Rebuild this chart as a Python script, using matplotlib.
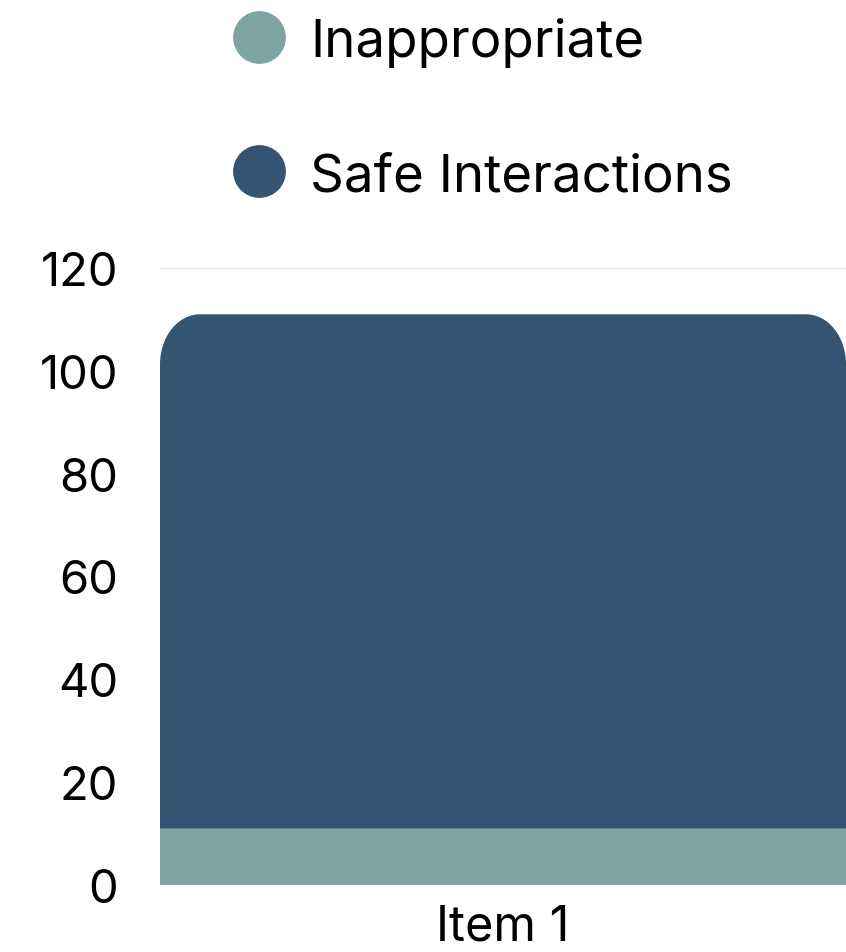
import matplotlib
matplotlib.use("Agg")
import matplotlib.pyplot as plt
from matplotlib.path import Path
from matplotlib.patches import PathPatch
from matplotlib.lines import Line2D

categories = ["Item 1"]
inappropriate = [11]
safe = [100]
series_names = ["Inappropriate", "Safe Interactions"]
colors = ["#7fa5a3", "#355472"]
yticks = [0, 20, 40, 60, 80, 100, 120]

plt.rcParams['font.family'] = ['Inter', 'DejaVu Sans']

W, H, DPI = 846, 953, 100
fig = plt.figure(figsize=(W / DPI, H / DPI), dpi=DPI)
ax = fig.add_axes([160 / W, 1 - 886 / H, 1 - 160 / W, (886 - 269) / H])

width = 0.8
x = list(range(len(categories)))
ax.set_xlim(-width / 2, len(categories) - 1 + width / 2)
ax.set_ylim(0, 120)

ax.bar(x, inappropriate, width=width, color=colors[0], zorder=2)

# rounded top bar for safe interactions
ax_w_px = W - 160
ax_h_px = 886 - 269
xr = (ax.get_xlim()[1] - ax.get_xlim()[0])
r_px_x, r_px_y = 40, 50
rx = r_px_x / ax_w_px * xr
ry = r_px_y / ax_h_px * 120
k = 0.5523
for xi, b, h in zip(x, inappropriate, safe):
    x0, x1 = xi - width / 2, xi + width / 2
    y0, y1 = b, b + h
    verts = [
        (x0, y0), (x0, y1 - ry),
        (x0, y1 - ry + k * ry), (x0 + rx - k * rx, y1), (x0 + rx, y1),
        (x1 - rx, y1),
        (x1 - rx + k * rx, y1), (x1, y1 - ry + k * ry), (x1, y1 - ry),
        (x1, y0), (x0, y0),
    ]
    codes = [Path.MOVETO, Path.LINETO,
             Path.CURVE4, Path.CURVE4, Path.CURVE4,
             Path.LINETO,
             Path.CURVE4, Path.CURVE4, Path.CURVE4,
             Path.LINETO, Path.CLOSEPOLY]
    ax.add_patch(PathPatch(Path(verts, codes), facecolor=colors[1],
                           edgecolor='none', zorder=2))

ax.set_yticks(yticks)
ax.set_yticklabels([str(v) for v in yticks], fontsize=34)
ax.set_xticks(x)
ax.set_xticklabels(categories, fontsize=35)
ax.tick_params(axis='both', length=0)
ax.tick_params(axis='y', pad=30)
ax.tick_params(axis='x', pad=13)
ax.grid(axis='y', color='#e6e6e6', linewidth=1, zorder=0)
ax.set_axisbelow(True)
for s in ax.spines.values():
    s.set_visible(False)

# legend, placed manually
leg_y = [38, 172]
for name, c, yy in zip(series_names, colors, leg_y):
    fig.add_artist(Line2D([259 / W], [1 - yy / H], transform=fig.transFigure,
                          linestyle='none', marker='o', markersize=38,
                          markerfacecolor=c, markeredgecolor='none'))
    fig.text(310 / W, 1 - yy / H, name, fontsize=38, va='center_baseline',
             ha='left')

fig.savefig("out.png", dpi=DPI)
